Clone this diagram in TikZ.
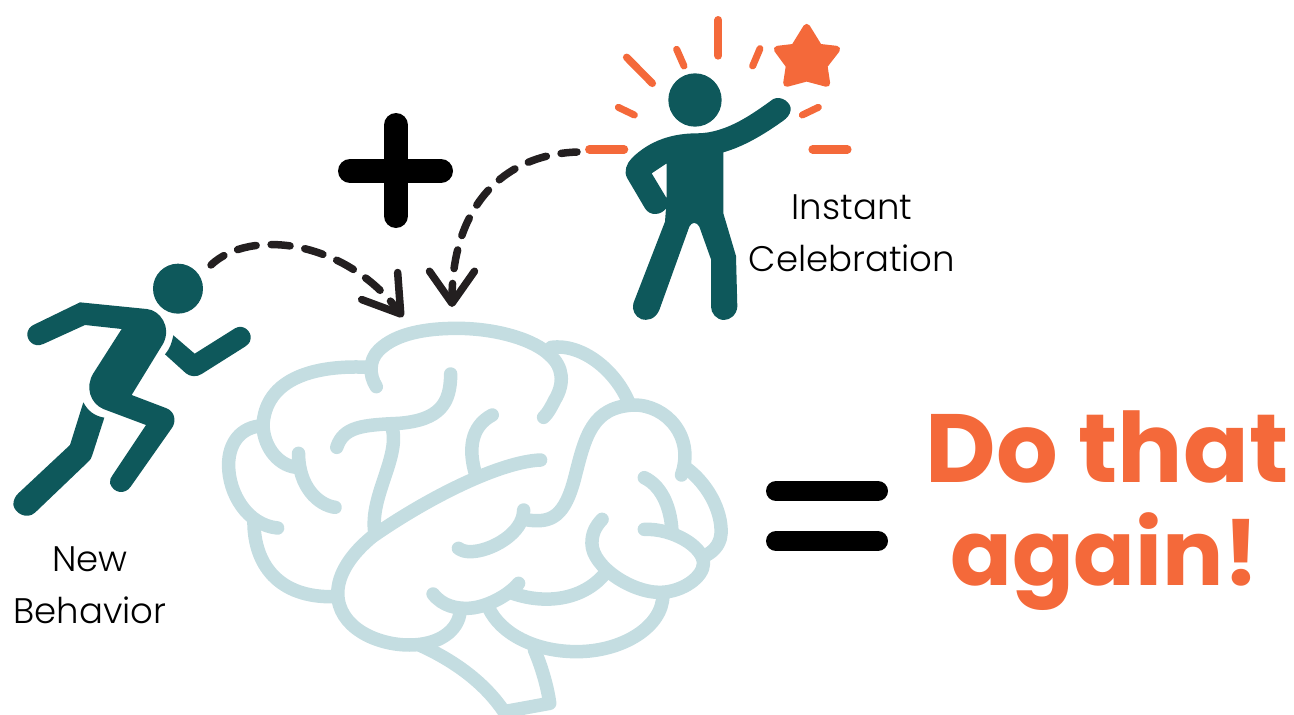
\documentclass[tikz,border=0pt]{standalone}
\usepackage{fontspec}
\usetikzlibrary{arrows.meta}
\newfontfamily\lightface{Poppins Light}
\newfontfamily\boldface{Poppins Bold}
\definecolor{teal1}{HTML}{0E585B}
\definecolor{orange1}{HTML}{F4693A}
\definecolor{brainblue}{HTML}{C4DDE1}
\definecolor{inkdark}{HTML}{231F20}
\tikzset{
  figure/.style={fill=teal1,draw=none},
  ray/.style={draw=orange1,line cap=round},
  lobe/.style={draw=brainblue,line width=13.5pt,line cap=round,line join=round},
  symbolbar/.style={draw=black,line cap=round},
  hop/.style={draw=inkdark,line width=7.5pt,line cap=round,dash pattern=on 19pt off 15pt},
  hoptip/.style={-{Straight Barb[length=#1,width=45pt,line width=7.5pt,round]}},
  caption/.style={font=\lightface\fontsize{35.5}{52}\selectfont,align=center,inner sep=0pt,text=black},
  slogan/.style={anchor=base,inner sep=0pt,text=orange1}
}
\begin{document}
\begin{tikzpicture}[x=1pt,y=-1pt]
\useasboundingbox (0,0) rectangle (1294,715);
\clip (0,0) rectangle (1294,715);
% brain
\begin{scope}[shift={(210,310)},x=0.338pt,y=-0.33333pt]
\draw[lobe] (492,230) .. controls (470,195) and (470,150) .. (500,120) .. controls (550,70) and (640,55) .. (730,55) .. controls (850,55) and (960,90) .. (1005,135) .. controls (1045,170) and (1050,220) .. (1020,270) .. controls (1010,290) and (1000,310) .. (987,322);
\draw[lobe] (470,172) .. controls (340,165) and (170,190) .. (157,340) .. controls (155,400) and (195,465) .. (255,472);
\draw[lobe] (262,430) .. controls (262,530) and (320,585) .. (370,592);
\draw[lobe] (157,347) .. controls (90,350) and (55,400) .. (55,465) .. controls (55,550) and (110,645) .. (200,654);
\draw[lobe] (130,635) .. controls (130,760) and (200,865) .. (370,860);
\draw[lobe] (978,450) .. controls (860,455) and (650,560) .. (480,680) .. controls (420,730) and (378,790) .. (378,850) .. controls (378,950) and (490,1005) .. (590,1005) .. controls (680,1005) and (735,960) .. (740,905);
\draw[lobe] (712,192) .. controls (712,280) and (680,330) .. (560,340) .. controls (450,345) and (395,350) .. (375,412);
\draw[lobe] (538,350) .. controls (565,440) and (470,560) .. (488,670);
\draw[lobe] (835,315) .. controls (770,350) and (765,420) .. (785,490);
\draw[lobe] (928,600) .. controls (928,670) and (830,725) .. (770,725) .. controls (755,725) and (745,722) .. (735,715);
\draw[lobe] (940,630) .. controls (1010,640) and (1050,620) .. (1080,500) .. controls (1110,380) and (1130,290) .. (1255,285) .. controls (1350,285) and (1435,380) .. (1395,495);
\draw[lobe] (1010,112) .. controls (1100,100) and (1200,180) .. (1240,280);
\draw[lobe] (1285,503) .. controls (1340,530) and (1365,600) .. (1367,670);
\draw[lobe] (1285,658) .. controls (1370,655) and (1460,710) .. (1460,760) .. controls (1460,800) and (1400,845) .. (1335,847) .. controls (1250,850) and (1130,770) .. (1130,700) .. controls (1130,670) and (1140,650) .. (1160,628);
\draw[lobe] (1410,475) .. controls (1470,520) and (1515,600) .. (1512,670) .. controls (1510,710) and (1480,730) .. (1465,737);
\draw[lobe] (660,852) .. controls (690,890) and (730,895) .. (760,895) .. controls (810,895) and (880,860) .. (913,820);
\draw[lobe] (890,848) .. controls (990,885) and (1100,870) .. (1165,795);
\draw[lobe] (1340,855) .. controls (1340,950) and (1220,1025) .. (1085,1025) .. controls (960,1025) and (860,970) .. (825,895);
\draw[lobe] (620,1005) .. controls (740,1060) and (820,1130) .. (870,1205) -- (1005,1180) .. controls (1000,1140) and (985,1080) .. (960,1020);
\end{scope}
% runner
\begin{scope}[shift={(0,230)},x=0.33333pt,y=-0.33333pt]
\fill[figure] (534,176) circle[radius=75];
\fill[figure] (100,285) -- (240,217) -- (440,237) .. controls (480,240) and (515,290) .. (490,340) -- (395,495) -- (500,535) .. controls (525,545) and (530,575) .. (515,595) -- (392,770) .. controls (375,795) and (340,790) .. (330,760) .. controls (328,750) and (333,742) .. (338,735) -- (438,585) -- (310,537) .. controls (270,520) and (255,470) .. (280,430) -- (365,297) -- (255,285) -- (130,342) .. controls (100,355) and (80,330) .. (82,310) .. controls (83,300) and (90,290) .. (100,285) -- cycle;
\fill[figure] (250,517) .. controls (265,545) and (285,558) .. (313,563) -- (277,675) .. controls (275,685) and (270,690) .. (265,695) -- (105,848) .. controls (80,870) and (45,850) .. (40,825) .. controls (40,810) and (45,800) .. (55,790) -- (210,645) -- cycle;
\fill[figure] (520,316) -- (584,371) -- (705,295) .. controls (730,280) and (755,305) .. (752,325) .. controls (750,340) and (745,342) .. (735,350) -- (605,432) .. controls (590,442) and (570,440) .. (558,430) -- (495,373) .. controls (510,355) and (515,340) .. (520,316) -- cycle;
\end{scope}
% celebrating figure
\begin{scope}[shift={(420,0)},x=0.33333pt,y=-0.33333pt]
\fill[figure] (825,300) circle[radius=80];
\fill[figure,even odd rule] (1060,297) .. controls (1085,285) and (1115,310) .. (1112,330) .. controls (1110,345) and (1100,355) .. (1090,362) .. controls (1030,405) and (970,440) .. (910,457) -- (910,640) -- (948,768) -- (952,920) .. controls (950,945) and (930,960) .. (912,960) .. controls (890,960) and (873,940) .. (873,920) -- (873,778) -- (838,680) .. controls (830,665) and (815,665) .. (808,680) -- (718,930) .. controls (705,960) and (680,962) .. (665,958) .. controls (645,950) and (635,930) .. (640,910) -- (735,665) -- (738,625) .. controls (725,645) and (690,650) .. (675,625) -- (622,535) .. controls (610,515) and (620,490) .. (635,475) .. controls (690,420) and (760,400) .. (830,400) .. controls (920,400) and (1000,340) .. (1060,297) -- cycle (740,490) -- (695,520) -- (740,595) -- cycle;
\filldraw[fill=orange1,draw=orange1,line width=7pt,line join=round] (1160,82) -- (1197,142) -- (1250,148) -- (1212,197) -- (1220,250) -- (1160,234) -- (1100,250) -- (1108,197) -- (1072,148) -- (1123,142) -- cycle;
\draw[ray,line width=8pt] (895,60) -- (895,167);
\draw[ray,line width=7pt] (770,148) -- (792,198);
\draw[ray,line width=7.5pt] (620,172) -- (697,250);
\draw[ray,line width=7pt] (595,322) -- (643,345);
\draw[ray,line width=7pt] (1020,146) -- (998,198);
\draw[ray,line width=7pt] (1195,322) -- (1147,345);
\draw[ray,line width=8.5pt] (508,448) -- (612,448);
\draw[ray,line width=8.5pt] (1178,448) -- (1282,448);
\end{scope}
% plus and equals
\draw[symbolbar,line width=24pt] (350,171) -- (441,171);
\draw[symbolbar,line width=24pt] (396,125) -- (396,216);
\draw[symbolbar,line width=20pt] (776,491) -- (878,491);
\draw[symbolbar,line width=20pt] (776,541) -- (878,541);
% connectors
\coordinate (runnerEdge) at (211,265);
\coordinate (brainInA) at (403,317);
\coordinate (starEdge) at (577,152);
\coordinate (brainInB) at (452,307);
\draw[hop,hoptip=35pt,dash phase=3pt] (runnerEdge) .. controls (250,228) and (345,240) .. (brainInA);
\draw[hop,hoptip=32pt,dash phase=3pt] (starEdge) .. controls (500,155) and (452,210) .. (brainInB);
% text
\node[caption] (newbehavior) at (90,585) {New\\Behavior};
\node[caption] (instant) at (852,233) {Instant\\Celebration};
\node[slogan,font=\boldface\fontsize{97}{100}\selectfont] (dothat) at (1107,482) {Do that};
\node[slogan,font=\boldface\fontsize{91}{100}\selectfont] (againline) at (1105,585) {again!};
\end{tikzpicture}
\end{document}
